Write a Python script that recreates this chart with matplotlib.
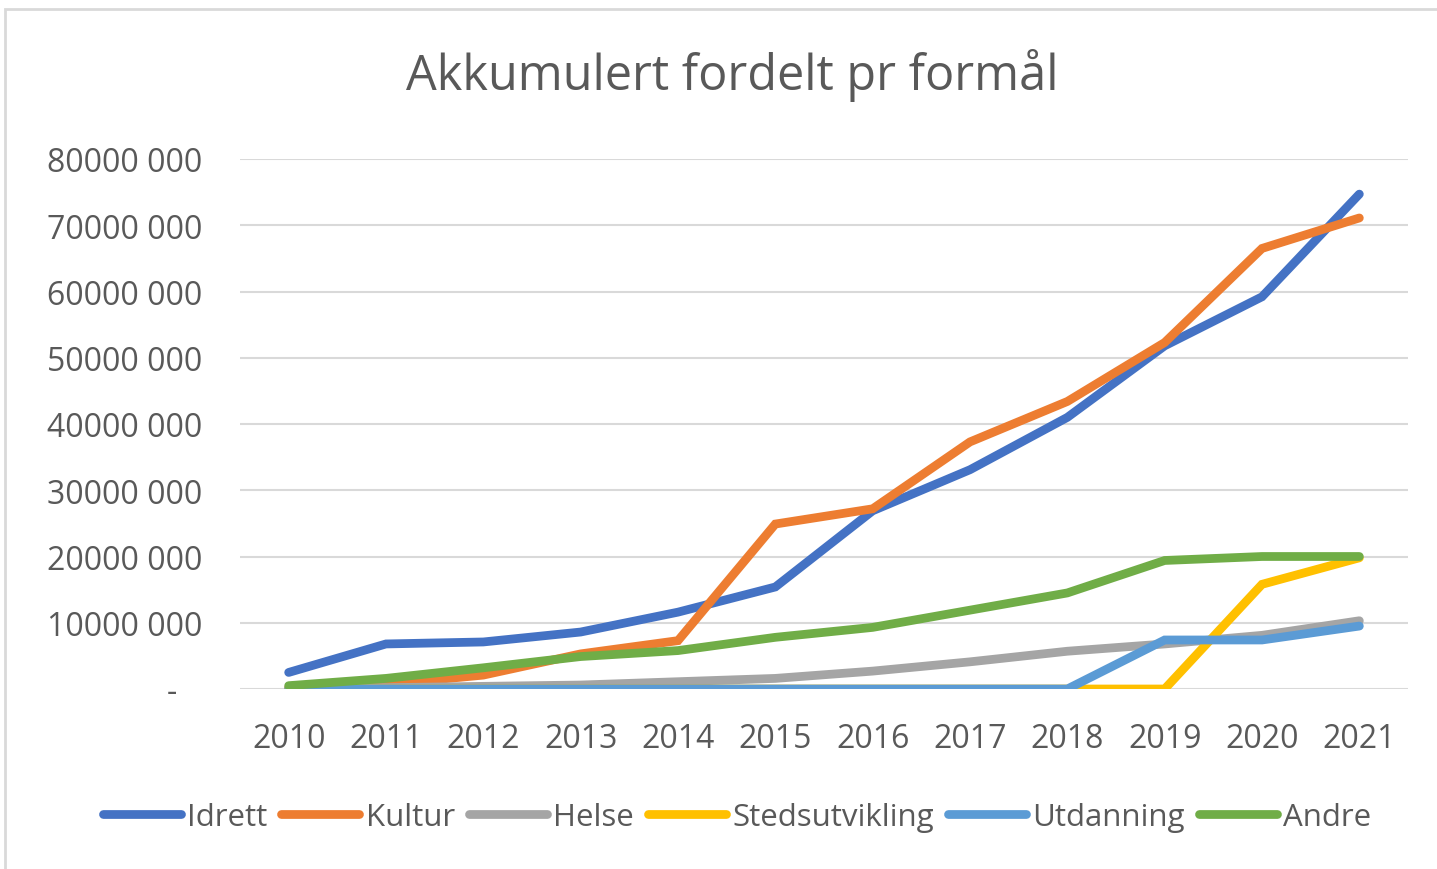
import matplotlib
matplotlib.use("Agg")
import matplotlib.pyplot as plt
from matplotlib.patches import Rectangle
from matplotlib.ticker import FuncFormatter

# data (NOK)
years = ["2010", "2011", "2012", "2013", "2014", "2015",
         "2016", "2017", "2018", "2019", "2020", "2021"]
idrett = [2.5e6, 6.8e6, 7.1e6, 8.6e6, 11.6e6, 15.4e6,
          26.9e6, 33.1e6, 41.0e6, 51.8e6, 59.2e6, 74.7e6]
kultur = [0.2e6, 0.7e6, 2.1e6, 5.3e6, 7.3e6, 24.9e6,
          27.2e6, 37.3e6, 43.4e6, 52.3e6, 66.5e6, 71.1e6]
helse = [0.1e6, 0.2e6, 0.4e6, 0.6e6, 1.1e6, 1.6e6,
         2.7e6, 4.1e6, 5.7e6, 6.8e6, 8.1e6, 10.3e6]
stedsutvikling = [0, 0, 0, 0, 0, 0, 0, 0, 0, 0, 15.8e6, 19.8e6]
utdanning = [0, 0, 0, 0, 0, 0, 0, 0, 0, 7.4e6, 7.4e6, 9.5e6]
andre = [0.5e6, 1.6e6, 3.2e6, 4.9e6, 5.8e6, 7.8e6,
         9.3e6, 11.9e6, 14.5e6, 19.4e6, 20.0e6, 20.0e6]

series = [("Idrett", idrett, "#4472c4"),
          ("Kultur", kultur, "#ed7d31"),
          ("Helse", helse, "#a5a5a5"),
          ("Stedsutvikling", stedsutvikling, "#ffc000"),
          ("Utdanning", utdanning, "#5b9bd5"),
          ("Andre", andre, "#70ad47")]

plt.rcParams['font.family'] = ['Open Sans', 'DejaVu Sans']
text_col = "#595959"

fig = plt.figure(figsize=(14.37, 8.70), dpi=100)
ax = fig.add_axes([240 / 1437, 1 - 690 / 870, 1168 / 1437, 530 / 870])

x = list(range(len(years)))
for name, vals, col in series:
    ax.plot(x, vals, color=col, lw=6.3, label=name,
            solid_capstyle="round", solid_joinstyle="miter")

ax.set_xlim(-0.5, len(years) - 0.5)
ax.set_ylim(0, 80e6)
ax.set_yticks([i * 10e6 for i in range(9)])
ax.set_xticks(x)
ax.set_xticklabels(years)

# Excel style labels: "80000 000", zero shown as a dash
ax.yaxis.set_major_formatter(
    FuncFormatter(lambda v, p: "-   " if v == 0 else "%d 000" % (v // 1000)))
ax.grid(axis="y", color="#d9d9d9", lw=1.5)
ax.set_axisbelow(True)
for s in ax.spines.values():
    s.set_visible(False)
ax.tick_params(length=0, labelsize=23, labelcolor=text_col)
ax.tick_params(axis="y", pad=27)
ax.tick_params(axis="x", pad=24)

fig.text(732 / 1437, 1 - 76 / 870, "Akkumulert fordelt pr formål",
         ha="center", va="center", fontsize=35, color=text_col)

fig.legend(loc="center", bbox_to_anchor=(737 / 1437, 1 - 818 / 870), ncol=6,
           frameon=False, fontsize=22.5, handlelength=2.5, handletextpad=0.2,
           columnspacing=0.45, labelcolor=text_col)

# chart frame
fig.patches.append(Rectangle((5 / 1437, -0.1), 1.2, 1 - 10 / 870 + 0.1,
                             transform=fig.transFigure, fill=False,
                             edgecolor="#d9d9d9", lw=2))

fig.savefig("out.png", dpi=100)
